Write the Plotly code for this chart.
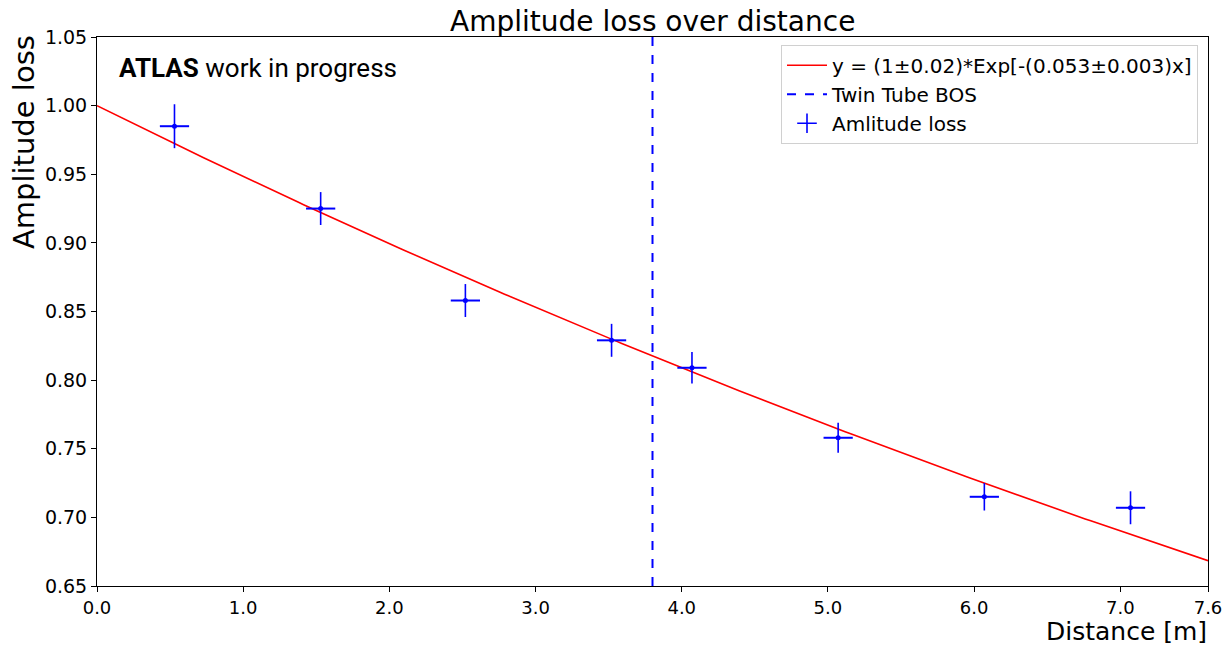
import numpy as np
import plotly.graph_objects as go

# data
dist = [0.53, 1.53, 2.52, 3.52, 4.07, 5.07, 6.07, 7.07]
amp = [0.985, 0.925, 0.858, 0.829, 0.809, 0.758, 0.715, 0.707]
amp_err = [0.016, 0.012, 0.012, 0.012, 0.0115, 0.011, 0.010, 0.012]
dist_err = [0.1, 0.1, 0.1, 0.1, 0.1, 0.1, 0.1, 0.1]
fit_a = 1.0
fit_b = 0.053
twin_tube_x = 3.8
x_ticks = [0, 1, 2, 3, 4, 5, 6, 7, 7.6]
x_tick_text = ["0.0", "1.0", "2.0", "3.0", "4.0", "5.0", "6.0", "7.0", "7.6"]
y_ticks = [0.65, 0.70, 0.75, 0.80, 0.85, 0.90, 0.95, 1.00, 1.05]

xf = np.linspace(0, 7.6, 200)
yf = fit_a * np.exp(-fit_b * xf)

font = "DejaVu Sans"
fig = go.Figure()
fig.add_trace(go.Scatter(x=xf, y=yf, mode="lines", line=dict(color="#ff0000", width=1.6),
                         name="y = (1±0.02)*Exp[-(0.053±0.003)x]"))
fig.add_trace(go.Scatter(x=[twin_tube_x, twin_tube_x], y=[0.65, 1.05], mode="lines",
                         line=dict(color="#0000ff", width=2, dash="dash"), name="Twin Tube BOS"))
fig.add_trace(go.Scatter(x=dist, y=amp, mode="markers", showlegend=False,
                         marker=dict(color="#0000ff", size=5),
                         error_x=dict(type="data", array=dist_err, color="#0000ff", thickness=2, width=0),
                         error_y=dict(type="data", array=amp_err, color="#0000ff", thickness=1.6, width=0)))
fig.add_trace(go.Scatter(x=[None], y=[None], mode="markers", name="Amlitude loss",
                         marker=dict(symbol="cross-thin-open", size=14, color="#0000ff",
                                     line=dict(color="#0000ff", width=1.6))))

fig.update_layout(
    width=1227, height=647,
    margin=dict(l=97, r=19, t=37, b=61, autoexpand=False),
    plot_bgcolor="white", paper_bgcolor="white",
    font=dict(family=font, size=19, color="black"),
    showlegend=True,
    legend=dict(x=0.991, y=0.986, xanchor="right", yanchor="top",
                bgcolor="white", bordercolor="#d0d0d0", borderwidth=1,
                font=dict(family=font, size=20), tracegroupgap=0, itemwidth=40),
    xaxis=dict(range=[0, 7.6], tickvals=x_ticks, ticktext=x_tick_text, showgrid=False,
               zeroline=False, showline=True, linecolor="black", linewidth=1, mirror=True,
               ticks="outside", ticklen=5, tickcolor="black", tickfont=dict(size=18),
               automargin=False),
    yaxis=dict(range=[0.65, 1.05], tickvals=y_ticks, tickformat=".2f", showgrid=False,
               zeroline=False, showline=True, linecolor="black", linewidth=1, mirror=True,
               ticks="outside", ticklen=5, tickcolor="black", tickfont=dict(size=19),
               automargin=False),
    annotations=[
        dict(text="Amplitude loss over distance", x=0.5, y=1.0, xref="paper", yref="paper",
             xanchor="center", yanchor="bottom", yshift=-3, showarrow=False, font=dict(size=28)),
        dict(text="Distance [m]", x=1.0, y=0, xref="paper", yref="paper", borderpad=0,
             xanchor="right", yanchor="top", yshift=-30, showarrow=False, font=dict(size=25)),
        dict(text="Amplitude loss", x=0, y=1.0, xref="paper", yref="paper", textangle=-90,
             xanchor="right", yanchor="top", xshift=-54, yshift=4, showarrow=False, font=dict(size=29)),
        dict(text="<b>ATLAS</b> work in progress", x=0.018, y=0.975, xref="paper", yref="paper",
             xanchor="left", yanchor="top", showarrow=False,
             font=dict(family="Roboto", size=26)),
    ],
)
fig.write_html("out.html")
